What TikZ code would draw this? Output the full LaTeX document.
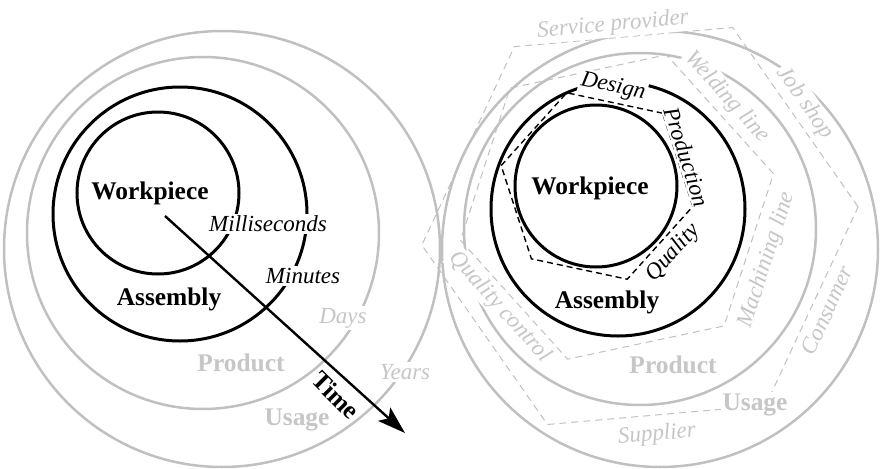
\documentclass[tikz,border=0pt]{standalone}
\usepackage{fontspec}
\setmainfont{Liberation Serif}
\usetikzlibrary{arrows.meta}
\definecolor{ringgray}{RGB}{192,192,192}
\definecolor{txtgray}{RGB}{198,198,198}
\tikzset{
  ring/.style = {draw=black, line width=1.5pt},
  gring/.style = {draw=ringgray, line width=1.25pt},
  hexb/.style = {draw=black, line width=0.7pt, dash pattern=on 3pt off 2pt},
  hexg/.style = {draw=ringgray, line width=0.5pt, dash pattern=on 3.5pt off 2.5pt},
  lvl/.style = {font=\bfseries\fontsize{12.7}{14}\selectfont, fill=white,
    inner sep=1pt},
  glvl/.style = {lvl, text=txtgray},
  tsc/.style = {font=\itshape\fontsize{11.5}{13}\selectfont, fill=white,
    inner sep=1pt},
  gtsc/.style = {tsc, text=txtgray},
  seta/.style = {-{Stealth[length=14pt, width=9pt, inset=3pt]},
    line width=1.2pt}
}

\begin{document}
\begin{tikzpicture}[x=0.5pt, y=0.5pt]
  \useasboundingbox (0,0) rectangle (880,468);
  % left: levels and their time scales
  \coordinate (lw) at (158,275);
  \coordinate (la) at (180,254);
  \coordinate (lp) at (203,235);
  \coordinate (lu) at (222,219);
  \draw [gring] (lu) circle (218);
  \draw [gring] (lp) circle (176);
  \draw [ring] (la) circle (127);
  \draw [ring] (lw) circle (81);
  \coordinate (t0) at (165,252);
  \coordinate (t1) at (405,35);
  \draw [seta] (t0) -- (t1);
  % right: levels and their organisation units
  \coordinate (rw) at (596,282);
  \coordinate (ra) at (618,259);
  \coordinate (rp) at (640,239);
  \coordinate (ru) at (660,219);
  \draw [gring] (ru) circle (218);
  \draw [gring] (rp) circle (176);
  \draw [hexg, shift={(640,242)}] (5:219) -- (65:219) -- (125:219)
    -- (185:219) -- (245:219) -- (305:219) -- cycle;
  \draw [hexg, shift={(617,261)}] (12:160) -- (72:160) -- (132:160)
    -- (192:160) -- (252:160) -- (312:160) -- cycle;
  \draw [ring] (ra) circle (127);
  \draw [ring] (rw) circle (81);
  \draw [hexb, shift={(597,282)}] (48:98) -- (108:98) -- (168:98)
    -- (228:98) -- (288:98) -- (348:98) -- cycle;
  % labels left
  \node [lvl] (wpl) at (150,275) {Workpiece};
  \node [lvl] (asl) at (169,169) {Assembly};
  \node [glvl] (prl) at (241,105) {Product};
  \node [glvl] (usl) at (297,48) {Usage};
  \node [tsc] (ms) at (268,244) {Milliseconds};
  \node [tsc] (min) at (303,192) {Minutes};
  \node [gtsc] (days) at (343,150) {Days};
  \node [gtsc] (yrs) at (405,96) {Years};
  \node [lvl, fill=none, rotate=-45] (time) at (336,73) {Time};
  % labels right
  \node [lvl] (wpr) at (590,280) {Workpiece};
  \node [lvl] (asr) at (607,166) {Assembly};
  \node [glvl] (prr) at (673,103) {Product};
  \node [glvl] (usr) at (755,63) {Usage};
  \node [tsc, rotate=-12] (des) at (613,381) {Design};
  \node [tsc, rotate=-72] (prod) at (687,311) {Production};
  \node [tsc, rotate=48] (qual) at (673,215) {Quality};
  \node [gtsc, rotate=-48] (weld) at (727,371) {Welding line};
  \node [gtsc, rotate=72] (mach) at (767,208) {Machining line};
  \node [gtsc, rotate=-48] (qc) at (500,161) {Quality control};
  \node [gtsc, rotate=5] (serv) at (613,443) {Service provider};
  \node [gtsc, rotate=-55] (job) at (805,365) {Job shop};
  \node [gtsc, rotate=65] (cons) at (827,158) {Consumer};
  \node [gtsc, rotate=5] (supp) at (657,33) {Supplier};
\end{tikzpicture}
\end{document}
